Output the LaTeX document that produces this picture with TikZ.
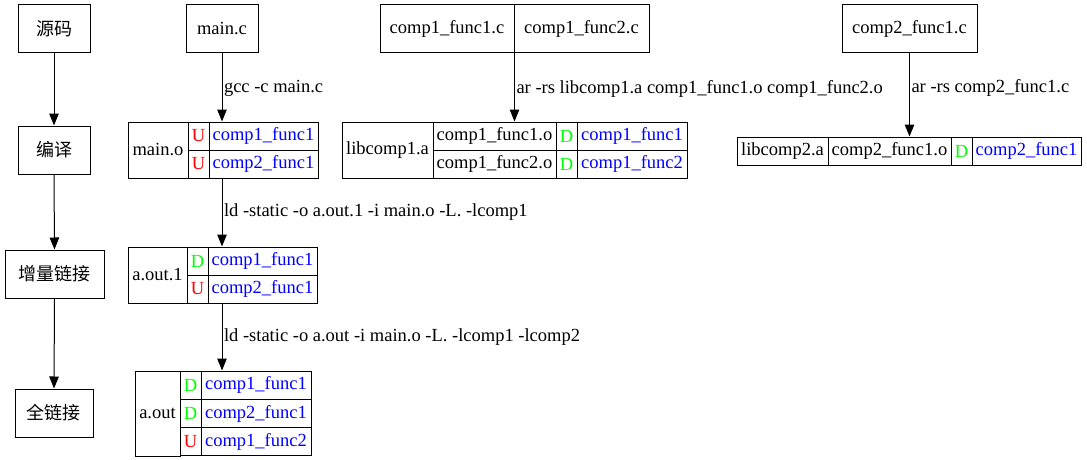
\documentclass[tikz,border=0pt]{standalone}
\usepackage{fontspec}
\setmainfont{Liberation Serif}
\newfontfamily\cjk{Noto Sans CJK SC}
\usetikzlibrary{arrows.meta}
\definecolor{symred}{HTML}{FF0000}
\definecolor{symgreen}{HTML}{00FF00}
\definecolor{symblue}{HTML}{0000FF}
\tikzset{
  cell/.style={draw=black, line width=1pt, inner sep=0pt, font=\fontsize{18.5}{22}\selectfont},
  cjkbox/.style={cell, font=\cjk\fontsize{18}{22}\selectfont},
  uflag/.style={cell, text=symred},
  dflag/.style={cell, text=symgreen},
  sym/.style={cell, text=symblue},
  arr/.style={line width=1pt, -{Triangle[length=12pt,width=9.5pt]}},
  elabel/.style={anchor=west, inner sep=0pt, font=\fontsize{18.5}{22}\selectfont}
}
\begin{document}
\begin{tikzpicture}[x=1pt,y=-1pt]
\useasboundingbox (0,0) rectangle (1087,460);
% left column
\node[cjkbox, minimum width=72pt, minimum height=48pt] (src) at (54,29) {源码};
\node[cjkbox, minimum width=72pt, minimum height=48pt] (compile) at (54,150) {编译};
\node[cjkbox, minimum width=99pt, minimum height=48pt] (inc) at (54.5,274) {增量链接};
\node[cjkbox, minimum width=78pt, minimum height=48pt] (full) at (54,413) {全链接};
\draw[arr] (src.south) -- (compile.north);
\draw[arr] (compile.south) -- (inc.north);
\draw[arr] (inc.south) -- (full.north);
% main.c
\node[cell, minimum width=72pt, minimum height=48pt] (mainc) at (222,29) {main.c};
% main.o
\node[cell, minimum width=60pt, minimum height=56pt] (mainoName) at (158,150) {main.o};
\node[uflag, minimum width=21pt, minimum height=28pt] (mainoF1) at (198.5,136) {U};
\node[sym, minimum width=109pt, minimum height=28pt] (mainoS1) at (263.5,136) {comp1\_func1};
\node[uflag, minimum width=21pt, minimum height=28pt] (mainoF2) at (198.5,164) {U};
\node[sym, minimum width=109pt, minimum height=28pt] (mainoS2) at (263.5,164) {comp2\_func1};
% a.out.1
\node[cell, minimum width=59pt, minimum height=56pt] (aoutaName) at (157.5,275) {a.out.1};
\node[dflag, minimum width=21pt, minimum height=28pt] (aoutaF1) at (197.5,261) {D};
\node[sym, minimum width=109pt, minimum height=28pt] (aoutaS1) at (262.5,261) {comp1\_func1};
\node[uflag, minimum width=21pt, minimum height=28pt] (aoutaF2) at (197.5,289) {U};
\node[sym, minimum width=109pt, minimum height=28pt] (aoutaS2) at (262.5,289) {comp2\_func1};
% a.out
\node[cell, minimum width=45pt, minimum height=85pt] (aoutName) at (157.5,413.5) {a.out};
\node[dflag, minimum width=21pt, minimum height=28.33pt] (aoutF1) at (190.5,385.17) {D};
\node[sym, minimum width=110pt, minimum height=28.33pt] (aoutS1) at (256,385.17) {comp1\_func1};
\node[dflag, minimum width=21pt, minimum height=28.33pt] (aoutF2) at (190.5,413.5) {D};
\node[sym, minimum width=110pt, minimum height=28.33pt] (aoutS2) at (256,413.5) {comp2\_func1};
\node[uflag, minimum width=21pt, minimum height=28.33pt] (aoutF3) at (190.5,441.83) {U};
\node[sym, minimum width=110pt, minimum height=28.33pt] (aoutS3) at (256,441.83) {comp1\_func2};
% edges in middle column
\draw[arr] (mainc.south) -- (mainc.south |- mainoS1.north)
  node[elabel, pos=0.52, xshift=1.5pt] (lgcc) {gcc -c main.c};
\coordinate (moBot) at (mainc.south |- mainoS2.south);
\draw[arr] (moBot) -- (moBot |- aoutaS1.north)
  node[elabel, pos=0.5, xshift=1.5pt] (lld1) {ld -static -o a.out.1 -i main.o -L. -lcomp1};
\coordinate (maBot) at (mainc.south |- aoutaS2.south);
\draw[arr] (maBot) -- (maBot |- aoutS1.north)
  node[elabel, pos=0.5, xshift=1.5pt] (lld2) {ld -static -o a.out -i main.o -L. -lcomp1 -lcomp2};
% comp1 sources
\node[cell, minimum width=134pt, minimum height=48pt] (cfa) at (447,29) {comp1\_func1.c};
\node[cell, minimum width=135pt, minimum height=48pt] (cfb) at (581.5,29) {comp1\_func2.c};
% libcomp1.a
\node[cell, minimum width=91pt, minimum height=56pt] (lcaName) at (387.5,150) {libcomp1.a};
\node[cell, minimum width=123pt, minimum height=28pt] (lcaO1) at (494.5,136) {comp1\_func1.o};
\node[dflag, minimum width=21pt, minimum height=28pt] (lcaF1) at (566.5,136) {D};
\node[sym, minimum width=110pt, minimum height=28pt] (lcaS1) at (632,136) {comp1\_func1};
\node[cell, minimum width=123pt, minimum height=28pt] (lcaO2) at (494.5,164) {comp1\_func2.o};
\node[dflag, minimum width=21pt, minimum height=28pt] (lcaF2) at (566.5,164) {D};
\node[sym, minimum width=110pt, minimum height=28pt] (lcaS2) at (632,164) {comp1\_func2};
\draw[arr] (cfa.south east) -- (cfa.south east |- lcaO1.north)
  node[elabel, pos=0.52, xshift=1.5pt] (lar1) {ar -rs libcomp1.a comp1\_func1.o comp1\_func2.o};
% comp2
\node[cell, minimum width=135pt, minimum height=48pt] (cgc) at (909.5,29) {comp2\_func1.c};
\node[cell, minimum width=91pt, minimum height=28pt] (lcbName) at (782.5,151) {libcomp2.a};
\node[cell, minimum width=123pt, minimum height=28pt] (lcbO) at (889.5,151) {comp2\_func1.o};
\node[dflag, minimum width=21pt, minimum height=28pt] (lcbF) at (961.5,151) {D};
\node[sym, minimum width=109pt, minimum height=28pt] (lcbS) at (1026.5,151) {comp2\_func1};
\draw[arr] (cgc.south) -- (cgc.south |- lcbO.north)
  node[elabel, pos=0.42, xshift=1.5pt] (lar2) {ar -rs comp2\_func1.c};
\end{tikzpicture}
\end{document}
